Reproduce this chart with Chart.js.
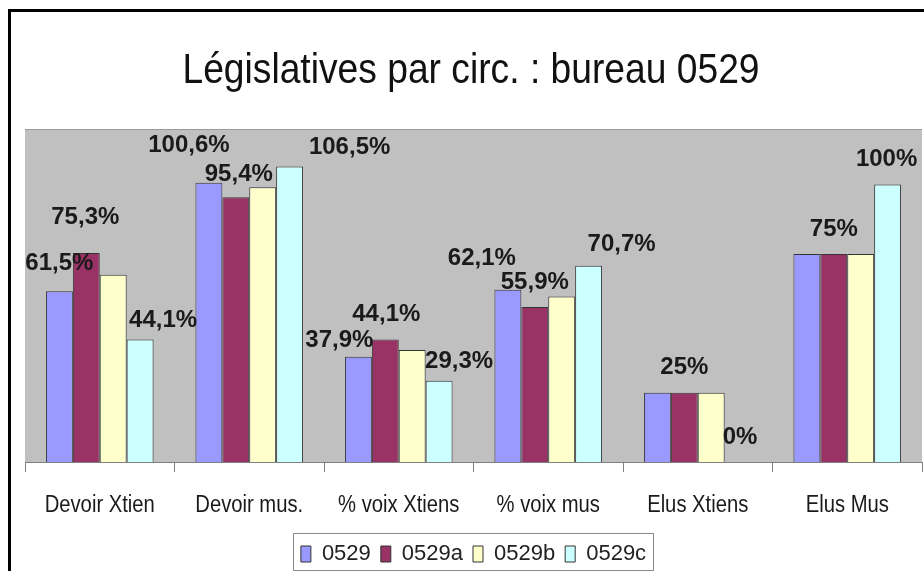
<!DOCTYPE html>
<html><head><meta charset="utf-8">
<script src="https://cdn.jsdelivr.net/npm/chart.js@4"></script>
<style>html,body{margin:0;padding:0;background:#fff;}#wrap{width:924px;height:571px;position:relative;overflow:hidden}</style>
</head><body><div id="wrap"><canvas id="c" width="924" height="571"></canvas></div>
<script>
const categories = ['Devoir Xtien', 'Devoir mus.', '% voix Xtiens', '% voix mus', 'Elus Xtiens', 'Elus Mus'];
const seriesNames = ['0529', '0529a', '0529b', '0529c'];
const values0529  = [61.5, 100.6, 37.9, 62.1, 25, 75];
const values0529a = [75.3, 95.4, 44.1, 55.9, 25, 75];
const values0529b = [67.5, 99.0, 40.4, 59.6, 25, 75];
const values0529c = [44.1, 106.5, 29.3, 70.7, 0, 100];
const titleText = 'Législatives par circ. : bureau 0529';

const SANS = '"Liberation Sans", Arial, sans-serif';

function fmt(v){ return (Number.isInteger(v) ? String(v) : v.toFixed(1).replace('.', ',')) + '%'; }

// draws text horizontally condensed (the reference uses a narrow face)
function narrowText(ctx, text, x, y, size, squeeze, color){
  ctx.save();
  ctx.font = size + 'px ' + SANS;
  ctx.fillStyle = color; ctx.textAlign = 'center'; ctx.textBaseline = 'alphabetic';
  ctx.translate(x, y); ctx.scale(squeeze, 1);
  ctx.fillText(text, 0, 0);
  ctx.restore();
}

const framePlugin = {
  id: 'frame',
  beforeDraw(chart){
    const ctx = chart.ctx, a = chart.chartArea;
    ctx.save();
    ctx.fillStyle = '#fff'; ctx.fillRect(0,0,chart.width,chart.height);
    ctx.fillStyle = '#000';
    ctx.fillRect(8, 9, 3, chart.height);
    ctx.fillRect(8, 9, chart.width, 3);
    ctx.fillStyle = '#C0C0C0';
    ctx.fillRect(a.left, a.top, a.right - a.left, a.bottom - a.top);
    ctx.strokeStyle = '#9a9a9a'; ctx.lineWidth = 1;
    ctx.beginPath(); ctx.moveTo(a.left, a.top + 0.5); ctx.lineTo(a.right, a.top + 0.5); ctx.stroke();
    ctx.restore();
  },
  afterDraw(chart, args, opts){
    const ctx = chart.ctx;
    // title
    narrowText(ctx, opts.title, 471, 83, 42, 0.886, '#111');
    // category labels
    const xs = chart.scales.x;
    chart.data.labels.forEach((lab, i) => {
      narrowText(ctx, lab, xs.getPixelForTick(i), 512, 23, 0.88, '#1a1a1a');
    });
    // legend frame
    const lg = chart.legend; const hb = lg.legendHitBoxes;
    if(!hb || !hb.length) return;
    const first = hb[0], last = hb[hb.length-1];
    const l = first.left - 8, r = last.left + last.width + 7;
    const t = first.top - 10, b = first.top + 27;
    ctx.save();
    ctx.strokeStyle = '#8a8a8a'; ctx.lineWidth = 1;
    ctx.strokeRect(Math.round(l)+0.5, Math.round(t)+0.5, Math.round(r-l), Math.round(b-t));
    ctx.restore();
  }
};

const labelPlugin = {
  id: 'barLabels',
  afterDatasetsDraw(chart, args, opts){
    const ctx = chart.ctx;
    ctx.save();
    ctx.font = 'bold 24px ' + SANS;
    ctx.fillStyle = '#1a1a1a'; ctx.textAlign = 'center'; ctx.textBaseline = 'middle';
    chart.data.datasets.forEach((ds, di) => {
      const offs = opts.offsets[di]; if(!offs) return;
      const meta = chart.getDatasetMeta(di);
      meta.data.forEach((bar, i) => {
        const o = offs[i]; if(!o) return;
        ctx.fillText(fmt(ds.data[i]), bar.x + o[0], bar.y + o[1]);
      });
    });
    ctx.restore();
  }
};

const colors = ['#9999FF', '#993366', '#FFFFCC', '#CCFFFF'];
const seriesValues = [values0529, values0529a, values0529b, values0529c];

new Chart(document.getElementById('c'), {
  type: 'bar',
  data: {
    labels: categories,
    datasets: seriesNames.map((n, i) => ({
      label: n, data: seriesValues[i], backgroundColor: colors[i],
      borderColor: '#333333', borderWidth: 1,
      categoryPercentage: 0.72, barPercentage: 1.0
    }))
  },
  options: {
    responsive: false, animation: false, devicePixelRatio: 1,
    layout: { padding: { left: 25, right: 2, top: 129, bottom: -4 } },
    scales: {
      x: {
        grid: { display: true, drawOnChartArea: false, drawTicks: true, tickLength: 10, color: '#808080', offset: true },
        border: { display: true, color: '#808080' },
        ticks: { display: false },
        afterFit(scale){ scale.height = 71; }
      },
      y: { display: false, min: 0, max: 120 }
    },
    plugins: {
      title: { display: false },
      frame: { title: titleText },
      legend: {
        position: 'bottom',
        labels: { font: { family: SANS, size: 22 }, color: '#222', boxWidth: 10, boxHeight: 16, padding: 10 }
      },
      tooltip: { enabled: false },
      barLabels: {
        offsets: [
          [[0,-28],[-20,-37],[-19,-16],[-26,-31],null,null],
          [[-1,-36],[3,-23],[1,-25],[0,-25],[0,-25],[0,-25]],
          null,
          [[23,-19],[60,-19],[20,-19],[33,-21],[2,-25],[-1,-25]]
        ]
      }
    }
  },
  plugins: [framePlugin, labelPlugin]
});
</script></body></html>
